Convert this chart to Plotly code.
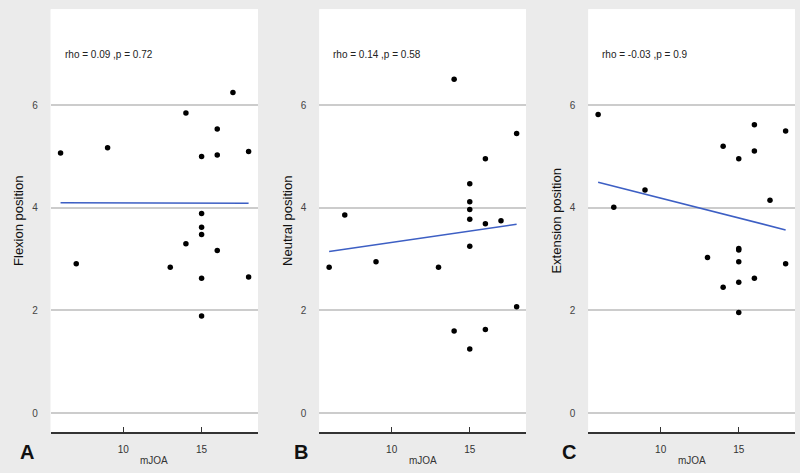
import plotly.graph_objects as go

# ---- data ----
mjoa = [6, 7, 9, 13, 14, 14, 15, 15, 15, 15, 15, 15, 16, 16, 16, 17, 18, 18]
flexion = [5.07, 2.91, 5.17, 2.84, 5.85, 3.30, 5.00, 3.89, 3.62, 3.48, 2.63, 1.89,
           5.54, 5.03, 3.17, 6.25, 5.10, 2.65]
neutral = [2.84, 3.86, 2.95, 2.84, 6.51, 1.60, 4.47, 4.12, 3.97, 3.78, 3.25, 1.25,
           4.96, 3.69, 1.63, 3.75, 5.45, 2.07]
extension = [5.82, 4.01, 4.35, 3.03, 5.20, 2.45, 4.96, 3.21, 3.18, 2.95, 2.55, 1.96,
             5.62, 5.11, 2.63, 4.15, 5.50, 2.91]

fit_x = [6, 18]
flexion_fit = [4.10, 4.09]
neutral_fit = [3.15, 3.68]
extension_fit = [4.50, 3.57]

panel_letters = ["A", "B", "C"]
y_titles = ["Flexion position", "Neutral position", "Extension position"]
stats_text = ["rho = 0.09 ,p = 0.72", "rho = 0.14 ,p = 0.58", "rho = -0.03 ,p = 0.9"]
x_title = "mJOA"
x_ticks = [10, 15]
y_ticks = [0, 2, 4, 6]

series = [flexion, neutral, extension]
fits = [flexion_fit, neutral_fit, extension_fit]

W, H = 800, 473
# pixel layout of the three panels
panel_px = [(50.7, 258.0), (319.3, 526.0), (588.3, 795.0)]
letter_px = [27, 301, 569]
top_px, bottom_px = 9.3, 432.3

BG = "#ebebeb"
GRID = "#cccccc"
BLUE = "#3d5fc4"

fig = go.Figure()
layout = dict(
    width=W, height=H,
    margin=dict(l=0, r=0, t=0, b=0),
    paper_bgcolor=BG,
    plot_bgcolor="white",
    showlegend=False,
    font=dict(family="Liberation Sans, Arial, sans-serif", color="#333333"),
    annotations=[],
    shapes=[],
)

ydom = [1 - bottom_px / H, 1 - top_px / H]

for i in range(3):
    xa = "x" if i == 0 else f"x{i+1}"
    ya = "y" if i == 0 else f"y{i+1}"
    xkey = "xaxis" if i == 0 else f"xaxis{i+1}"
    ykey = "yaxis" if i == 0 else f"yaxis{i+1}"
    x0, x1 = panel_px[i]
    xdom = [x0 / W, x1 / W]

    # white panel background
    layout["shapes"].append(dict(type="rect", xref="paper", yref="paper",
                                 x0=xdom[0], x1=xdom[1], y0=ydom[0], y1=ydom[1],
                                 fillcolor="white", line=dict(width=0), layer="below"))

    fig.add_trace(go.Scatter(x=fit_x, y=fits[i], mode="lines",
                             line=dict(color=BLUE, width=1.6),
                             xaxis=xa, yaxis=ya, hoverinfo="skip"))
    fig.add_trace(go.Scatter(x=mjoa, y=series[i], mode="markers",
                             marker=dict(color="black", size=5.5),
                             xaxis=xa, yaxis=ya))

    layout[xkey] = dict(
        domain=xdom, anchor=ya, range=[5.37, 18.6],
        tickvals=x_ticks, ticks="inside", ticklen=6, tickwidth=1, tickcolor="#333333",
        showgrid=False, zeroline=False, showline=True, linecolor="#333333", linewidth=1.5,
        tickfont=dict(size=10, color="#333333"), ticklabelstandoff=7,
        automargin=False, fixedrange=True,
    )
    layout[ykey] = dict(
        domain=ydom, anchor=xa, range=[-0.376, 7.872],
        tickvals=y_ticks, ticks="", showgrid=True, gridcolor=GRID, gridwidth=1.5,
        zeroline=False, showline=False,
        tickfont=dict(size=10, color="#444444"), ticklabelstandoff=12,
        title=dict(text=y_titles[i], font=dict(size=13, color="#111111"), standoff=5),
        automargin=False, fixedrange=True,
    )

    # x title
    layout["annotations"].append(dict(
        text=x_title, xref="paper", yref="paper",
        x=(x0 + x1) / 2 / W, y=1 - 460 / H, xanchor="center", yanchor="middle",
        showarrow=False, font=dict(size=10, color="#333333")))
    # panel letter
    layout["annotations"].append(dict(
        text=f"<b>{panel_letters[i]}</b>", xref="paper", yref="paper",
        x=letter_px[i] / W, y=1 - 452 / H, xanchor="center", yanchor="middle",
        showarrow=False, font=dict(size=20, color="#111111")))
    # statistics text
    layout["annotations"].append(dict(
        text=stats_text[i], xref=xa, yref=ya, x=6.15, y=7.0,
        xanchor="left", yanchor="middle", showarrow=False,
        font=dict(size=10, color="#222222")))

fig.update_layout(**layout)
fig.write_html("out.html")
